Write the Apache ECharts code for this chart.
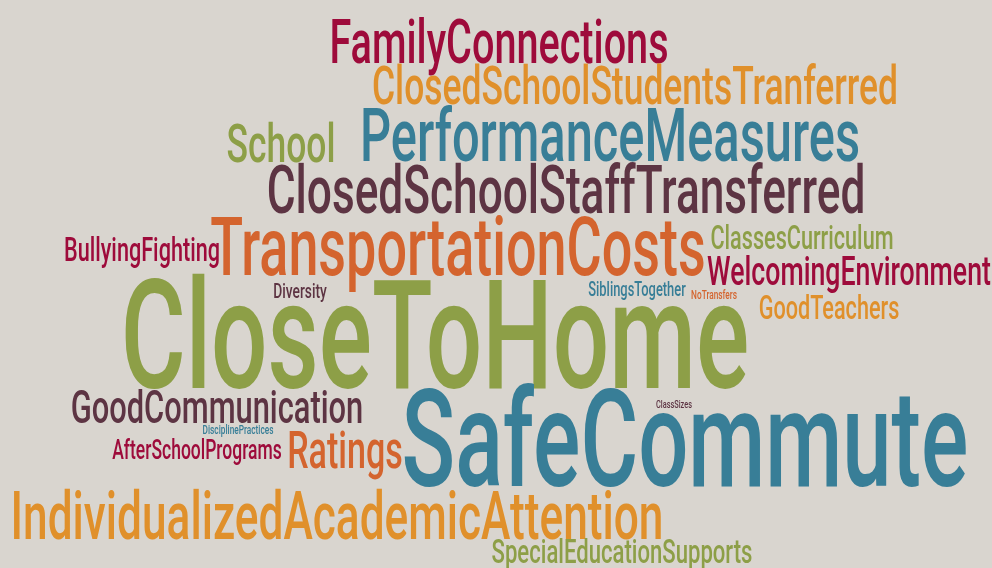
<!DOCTYPE html>
<html>
<head>
<meta charset="utf-8">
<script src="https://cdn.jsdelivr.net/npm/echarts@6/dist/echarts.min.js"></script>
<style>
  html, body { margin: 0; padding: 0; background: #d9d5cf; }
  #chart { width: 992px; height: 568px; }
</style>
</head>
<body>
<div id="chart"></div>
<script>
// words of the cloud
var words = [
  'FamilyConnections', 'ClosedSchoolStudentsTranferred', 'School', 'PerformanceMeasures',
  'ClosedSchoolStaffTransferred', 'BullyingFighting', 'TransportationCosts', 'ClassesCurriculum',
  'WelcomingEnvironment', 'Diversity', 'SiblingsTogether', 'NoTransfers', 'GoodTeachers',
  'CloseToHome', 'GoodCommunication', 'ClassSizes', 'DisciplinePractices', 'AfterSchoolPrograms',
  'Ratings', 'SafeCommute', 'IndividualizedAcademicAttention', 'SpecialEducationSupports'
]
// weight of each word (drives the text size)
var weights = [43, 38.5, 38.5, 53, 48, 23.5, 58.5, 23.5, 29, 15, 14, 9, 23.5, 108, 33.5, 8, 9, 19, 37, 96, 48, 24]
// layout position of each word (center of the word)
var layoutX = [499, 635, 281, 610, 566, 142, 458, 802, 849, 300, 637, 714, 829, 435, 217, 674, 238, 197, 345, 685, 337, 622]
var layoutY = [41, 85, 143, 134, 189, 249, 245, 237, 270, 290, 289, 294, 307, 333, 406, 404, 429, 449, 449, 437, 515, 551]
// colour group of each word
var colorGroup = [0, 1, 2, 3, 4, 0, 5, 2, 0, 4, 3, 5, 1, 2, 4, 4, 3, 0, 5, 3, 1, 2]
var palette = ['#9e0b3b', '#e0902b', '#8d9f47', '#387e97', '#5d3443', '#d4642e']

var chart = echarts.init(document.getElementById('chart'))

var capRatio = 0.711  // cap height of Roboto per em
var condense = 0.655  // horizontal squeeze to get the narrow look
var shiftDown = 0.11  // baseline correction per em

var seriesData = []
for (var i = 0; i < words.length; i++) {
  seriesData.push([layoutX[i], layoutY[i], weights[i]])
}

var option = {
  backgroundColor: '#d9d5cf',
  animation: false,
  grid: { left: 0, right: 0, top: 0, bottom: 0 },
  xAxis: { type: 'value', min: 0, max: 992, show: false },
  yAxis: { type: 'value', min: 0, max: 568, inverse: true, show: false },
  series: [
    {
      type: 'custom',
      clip: false,
      data: seriesData,
      renderItem: function (params, api) {
        var i = params.dataIndex
        var pt = api.coord([api.value(0), api.value(1)])
        var size = api.value(2) / capRatio
        return {
          type: 'text',
          x: pt[0],
          y: pt[1] + size * shiftDown,
          scaleX: condense,
          style: {
            text: words[i],
            fontFamily: 'Roboto',
            fontWeight: 500,
            fontSize: size,
            fill: palette[colorGroup[i]],
            align: 'center',
            verticalAlign: 'middle'
          }
        }
      }
    }
  ]
}

chart.setOption(option)
</script>
</body>
</html>
